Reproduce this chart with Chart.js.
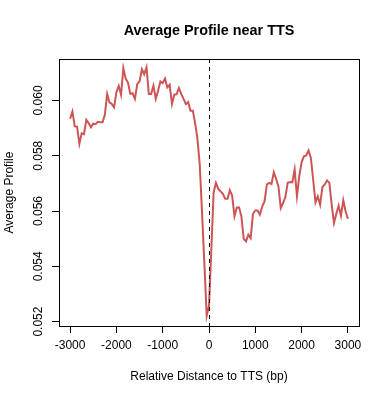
<!DOCTYPE html>
<html>
<head>
<meta charset="utf-8">
<script src="https://cdn.jsdelivr.net/npm/chart.js@4.4.0/dist/chart.umd.min.js"></script>
<style>
  html, body { margin: 0; padding: 0; background: #fff; }
</style>
</head>
<body>
<canvas id="ttsChart" width="390" height="400"></canvas>
<script>
// bin centres (bp relative to TTS)
const distances = [
  -3000, -2950, -2900, -2850, -2800, -2750, -2700, -2650, -2600, -2550,
  -2500, -2450, -2400, -2350, -2300, -2250, -2200, -2150, -2100, -2050,
  -2000, -1950, -1900, -1850, -1800, -1750, -1700, -1650, -1600, -1550,
  -1500, -1450, -1400, -1350, -1300, -1250, -1200, -1150, -1100, -1050,
  -1000, -950, -900, -850, -800, -750, -700, -650, -600, -550,
  -500, -450, -400, -350, -300, -250, -200, -150, -100, -50,
  0, 50, 100, 150, 200, 250, 300, 350, 400, 450,
  500, 550, 600, 650, 700, 750, 800, 850, 900, 950,
  1000, 1050, 1100, 1150, 1200, 1250, 1300, 1350, 1400, 1450,
  1500, 1550, 1600, 1650, 1700, 1750, 1800, 1850, 1900, 1950,
  2000, 2050, 2100, 2150, 2200, 2250, 2300, 2350, 2400, 2450,
  2500, 2550, 2600, 2650, 2700, 2750, 2800, 2850, 2900, 2950,
  3000
];

// average profile
const profile = [
  0.05934, 0.05960, 0.05906, 0.05905, 0.05843, 0.05881, 0.05878, 0.05930, 0.05918, 0.05903,
  0.05916, 0.05914, 0.05923, 0.05921, 0.05921, 0.05948, 0.06023, 0.05993, 0.05987, 0.05975,
  0.06030, 0.06053, 0.06021, 0.06117, 0.06079, 0.06065, 0.06024, 0.06026, 0.06006, 0.06059,
  0.06069, 0.06113, 0.06095, 0.06120, 0.06023, 0.06023, 0.06054, 0.06006, 0.06035, 0.06069,
  0.06063, 0.06079, 0.06047, 0.06057, 0.05987, 0.06021, 0.06023, 0.06045, 0.06024, 0.06006,
  0.05987, 0.05994, 0.05963, 0.05963, 0.05918, 0.05862, 0.05768, 0.05594, 0.05409, 0.05221,
  0.05257, 0.05460, 0.05667, 0.05702, 0.05680, 0.05671, 0.05662, 0.05644, 0.05644, 0.05675,
  0.05656, 0.05581, 0.05613, 0.05613, 0.05580, 0.05499, 0.05490, 0.05514, 0.05502, 0.05590,
  0.05602, 0.05602, 0.05587, 0.05617, 0.05635, 0.05696, 0.05702, 0.05698, 0.05740, 0.05716,
  0.05689, 0.05611, 0.05629, 0.05651, 0.05702, 0.05705, 0.05704, 0.05750, 0.05653, 0.05726,
  0.05776, 0.05798, 0.05801, 0.05819, 0.05792, 0.05714, 0.05631, 0.05653, 0.05623, 0.05687,
  0.05696, 0.05711, 0.05702, 0.05623, 0.05557, 0.05590, 0.05619, 0.05583, 0.05639, 0.05599,
  0.05572
];

const xTicks = [-3000, -2000, -1000, 0, 1000, 2000, 3000];
const yTicks = [0.052, 0.054, 0.056, 0.058, 0.060];
const yTickLabels = ['0.052', '0.054', '0.056', '0.058', '0.060'];
const tssMark = 0;

const FONT = '"Liberation Sans", Arial, Helvetica, sans-serif';

// R style extras: box, dashed line at TTS, rotated y labels, main title
const rStyle = {
  id: 'rStyle',
  afterDatasetsDraw(chart) {
    const { ctx, chartArea: a, scales } = chart;
    const x0 = Math.round(scales.x.getPixelForValue(tssMark)) + 0.5;
    ctx.save();
    ctx.strokeStyle = '#000';
    ctx.lineWidth = 1;
    ctx.setLineDash([4, 4]);
    ctx.beginPath();
    ctx.moveTo(x0, a.top);
    ctx.lineTo(x0, a.bottom);
    ctx.stroke();
    ctx.setLineDash([]);
    ctx.strokeRect(a.left + 0.5, a.top + 0.5, a.right - a.left, a.bottom - a.top);
    ctx.restore();
  },
  afterDraw(chart) {
    const { ctx, chartArea: a, scales } = chart;
    ctx.save();
    ctx.fillStyle = '#000';
    ctx.font = '12px ' + FONT;
    ctx.textAlign = 'center';
    ctx.textBaseline = 'middle';
    yTicks.forEach((v, i) => {
      const py = scales.y.getPixelForValue(v);
      ctx.save();
      ctx.translate(38.5, py);
      ctx.rotate(-Math.PI / 2);
      ctx.fillText(yTickLabels[i], 0, 0);
      ctx.restore();
    });
    ctx.font = 'bold 14.4px ' + FONT;
    ctx.fillText('Average Profile near TTS', (a.left + a.right) / 2, 31);
    ctx.restore();
  }
};

new Chart(document.getElementById('ttsChart'), {
  type: 'line',
  data: {
    datasets: [{
      data: distances.map((d, i) => ({ x: d, y: profile[i] })),
      borderColor: '#CD5555',
      borderWidth: 2,
      pointRadius: 0,
      tension: 0,
      fill: false
    }]
  },
  options: {
    responsive: false,
    animation: false,
    layout: { padding: { top: 59, right: 31, left: 0, bottom: 0 } },
    plugins: { legend: { display: false }, tooltip: { enabled: false }, title: { display: false } },
    scales: {
      x: {
        type: 'linear',
        min: -3240,
        max: 3240,
        afterBuildTicks: s => { s.ticks = xTicks.map(v => ({ value: v })); },
        afterFit: s => { s.height = 74; },
        grid: { drawOnChartArea: false, drawTicks: true, tickLength: 7, color: '#000' },
        border: { display: false },
        ticks: {
          color: '#000',
          padding: 5,
          maxRotation: 0,
          font: { family: FONT, size: 12 },
          callback: v => String(v)
        },
        title: {
          display: true,
          text: 'Relative Distance to TTS (bp)',
          color: '#000',
          font: { family: FONT, size: 12 },
          padding: { top: 0, bottom: 16 }
        }
      },
      y: {
        type: 'linear',
        min: 0.05184,
        max: 0.0615,
        afterBuildTicks: s => { s.ticks = yTicks.map(v => ({ value: v })); },
        afterFit: s => { s.width = 59; },
        grid: { drawOnChartArea: false, drawTicks: true, tickLength: 7, color: '#000' },
        border: { display: false },
        ticks: { display: false },
        title: {
          display: true,
          text: 'Average Profile',
          color: '#000',
          font: { family: FONT, size: 12 },
          padding: { top: 2, bottom: 0 }
        }
      }
    }
  },
  plugins: [rStyle]
});
</script>
</body>
</html>
